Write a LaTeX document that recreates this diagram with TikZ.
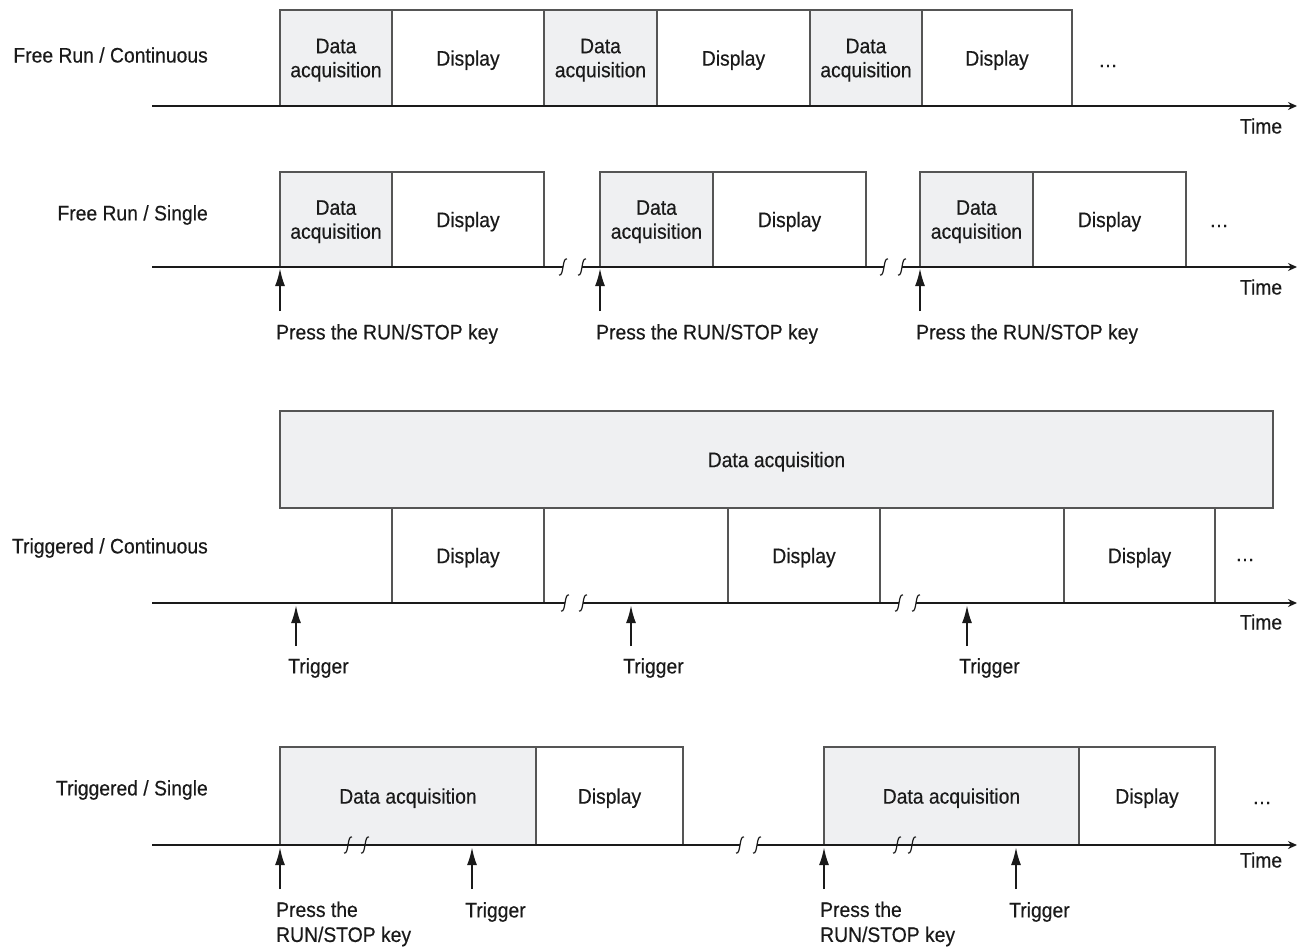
\documentclass[tikz,border=0pt]{standalone}
\usepackage{fontspec}
\setmainfont{Liberation Sans}[FakeStretch=0.92,FakeBold=0.4]
\usetikzlibrary{arrows.meta}
\definecolor{dagray}{HTML}{EFF0F2}
\definecolor{boxline}{HTML}{555555}
\definecolor{ink}{HTML}{1A1A1A}
\begin{document}
\begin{tikzpicture}[x=1pt,y=-1pt,
  txt/.style={font=\fontsize{21}{24}\selectfont, text=ink, inner sep=0pt},
  bx/.style={draw=boxline, line width=1.2pt, inner sep=0pt, outer sep=0pt,
    anchor=south west, align=center, txt, text depth=-3pt},
  dabox/.style={bx, fill=dagray},
  dispbox/.style={bx, fill=white},
  low/.style={text depth=-9pt},
  tline/.style={draw=ink, line width=2.2pt, -{Stealth[length=9pt,width=8pt]}},
  seg/.style={draw=ink, line width=2.2pt},
  evt/.style={draw=ink, line width=2.2pt, -{Latex[length=18pt,width=10pt]}},
  brk/.style={draw=ink, line width=1.2pt},
  brkm/.pic={\draw[brk] (-4,8) .. controls (1,10) and (-1,-10) .. (4,-8);},
  rowlbl/.style={txt, anchor=east},
  evlbl/.style={txt, anchor=west, align=left},
  dots/.style={txt}
]
\useasboundingbox (0,0) rectangle (1298,948);

% ---------------- Row 1: Free Run / Continuous ----------------
\node[rowlbl] (l1) at (208,55) {Free Run / Continuous};
\node[dabox, low, minimum width=112pt, minimum height=96pt] (a11) at (280,106) {Data\\acquisition};
\node[dispbox, low, minimum width=152pt, minimum height=96pt] (d11) at (392,106) {Display};
\node[dabox, low, minimum width=113pt, minimum height=96pt] (a12) at (544,106) {Data\\acquisition};
\node[dispbox, low, minimum width=153pt, minimum height=96pt] (d12) at (657,106) {Display};
\node[dabox, low, minimum width=112pt, minimum height=96pt] (a13) at (810,106) {Data\\acquisition};
\node[dispbox, low, minimum width=150pt, minimum height=96pt] (d13) at (922,106) {Display};
\node[dots] (e1) at (1108,66) {…};
\coordinate (t1s) at (152,106);
\coordinate (t1e) at (1297,106);
\draw[tline] (t1s) -- (t1e);
\node[txt] (time1) at (1261,126) {Time};

% ---------------- Row 2: Free Run / Single ----------------
\node[rowlbl] (l2) at (208,215) {Free Run / Single};
\node[dabox, minimum width=112pt, minimum height=95pt] (a21) at (280,267) {Data\\acquisition};
\node[dispbox, minimum width=152pt, minimum height=95pt] (d21) at (392,267) {Display};
\node[dabox, minimum width=113pt, minimum height=95pt] (a22) at (600,267) {Data\\acquisition};
\node[dispbox, minimum width=153pt, minimum height=95pt] (d22) at (713,267) {Display};
\node[dabox, minimum width=113pt, minimum height=95pt] (a23) at (920,267) {Data\\acquisition};
\node[dispbox, minimum width=153pt, minimum height=95pt] (d23) at (1033,267) {Display};
\node[dots] (e2) at (1219,226) {…};
\coordinate (t2s) at (152,267);
\coordinate (t2b1) at (563,267);
\coordinate (t2c1) at (582,267);
\coordinate (t2b2) at (884,267);
\coordinate (t2c2) at (902,267);
\coordinate (t2e) at (1297,267);
\draw[seg] (t2s) -- (t2b1);
\draw[seg] (t2c1) -- (t2b2);
\draw[tline] (t2c2) -- (t2e);
\pic at (t2b1) {brkm};
\pic at (t2c1) {brkm};
\pic at (t2b2) {brkm};
\pic at (t2c2) {brkm};
\node[txt] (time2) at (1261,287) {Time};
\coordinate (p21a) at (280,311);
\coordinate (p21b) at (280,268);
\coordinate (p22a) at (600,311);
\coordinate (p22b) at (600,268);
\coordinate (p23a) at (920,311);
\coordinate (p23b) at (920,268);
\draw[evt] (p21a) -- (p21b);
\draw[evt] (p22a) -- (p22b);
\draw[evt] (p23a) -- (p23b);
\node[evlbl] (k21) at (276,334) {Press the RUN/STOP key};
\node[evlbl] (k22) at (596,334) {Press the RUN/STOP key};
\node[evlbl] (k23) at (916,334) {Press the RUN/STOP key};

% ---------------- Row 3: Triggered / Continuous ----------------
\node[rowlbl] (l3) at (208,548) {Triggered / Continuous};
\node[dabox, low, minimum width=993pt, minimum height=97pt] (big) at (280,508) {Data acquisition};
\node[dispbox, text depth=0pt, minimum width=152pt, minimum height=95pt] (d31) at (392,603) {Display};
\node[dispbox, text depth=0pt, minimum width=152pt, minimum height=95pt] (d32) at (728,603) {Display};
\node[dispbox, text depth=0pt, minimum width=151pt, minimum height=95pt] (d33) at (1064,603) {Display};
\node[dots] (e3) at (1245,560) {…};
\coordinate (t3s) at (152,603);
\coordinate (t3b1) at (565,603);
\coordinate (t3c1) at (583,603);
\coordinate (t3b2) at (899,603);
\coordinate (t3c2) at (916,603);
\coordinate (t3e) at (1297,603);
\draw[seg] (t3s) -- (t3b1);
\draw[seg] (t3c1) -- (t3b2);
\draw[tline] (t3c2) -- (t3e);
\pic at (t3b1) {brkm};
\pic at (t3c1) {brkm};
\pic at (t3b2) {brkm};
\pic at (t3c2) {brkm};
\node[txt] (time3) at (1261,622) {Time};
\coordinate (g31a) at (296,646);
\coordinate (g31b) at (296,605);
\coordinate (g32a) at (631,646);
\coordinate (g32b) at (631,605);
\coordinate (g33a) at (967,646);
\coordinate (g33b) at (967,605);
\draw[evt] (g31a) -- (g31b);
\draw[evt] (g32a) -- (g32b);
\draw[evt] (g33a) -- (g33b);
\node[evlbl] (tr31) at (288,668) {Trigger};
\node[evlbl] (tr32) at (623,668) {Trigger};
\node[evlbl] (tr33) at (959,668) {Trigger};

% ---------------- Row 4: Triggered / Single ----------------
\node[rowlbl] (l4) at (208,790) {Triggered / Single};
\node[dabox, minimum width=256pt, minimum height=98pt] (a41) at (280,845) {Data acquisition};
\node[dispbox, minimum width=147pt, minimum height=98pt] (d41) at (536,845) {Display};
\node[dabox, minimum width=255pt, minimum height=98pt] (a42) at (824,845) {Data acquisition};
\node[dispbox, minimum width=136pt, minimum height=98pt] (d42) at (1079,845) {Display};
\node[dots] (e4) at (1262,803) {…};
\coordinate (t4s) at (152,845);
\coordinate (t4m1) at (348,845);
\coordinate (t4m2) at (365,845);
\coordinate (t4b1) at (740,845);
\coordinate (t4c1) at (757,845);
\coordinate (t4m3) at (897,845);
\coordinate (t4m4) at (912,845);
\coordinate (t4e) at (1297,845);
\draw[seg] (t4s) -- (t4b1);
\draw[tline] (t4c1) -- (t4e);
\pic at (t4m1) {brkm};
\pic at (t4m2) {brkm};
\pic at (t4b1) {brkm};
\pic at (t4c1) {brkm};
\pic at (t4m3) {brkm};
\pic at (t4m4) {brkm};
\node[txt] (time4) at (1261,860) {Time};
\coordinate (p41a) at (280,889);
\coordinate (p41b) at (280,847);
\coordinate (g41a) at (472,889);
\coordinate (g41b) at (472,847);
\coordinate (p42a) at (824,889);
\coordinate (p42b) at (824,847);
\coordinate (g42a) at (1016,889);
\coordinate (g42b) at (1016,847);
\draw[evt] (p41a) -- (p41b);
\draw[evt] (g41a) -- (g41b);
\draw[evt] (p42a) -- (p42b);
\draw[evt] (g42a) -- (g42b);
\node[evlbl, font=\fontsize{21}{25}\selectfont] (k41) at (276,924) {Press the\\RUN/STOP key};
\node[evlbl] (tr41) at (465,912) {Trigger};
\node[evlbl, font=\fontsize{21}{25}\selectfont] (k42) at (820,924) {Press the\\RUN/STOP key};
\node[evlbl] (tr42) at (1009,912) {Trigger};
\end{tikzpicture}
\end{document}
